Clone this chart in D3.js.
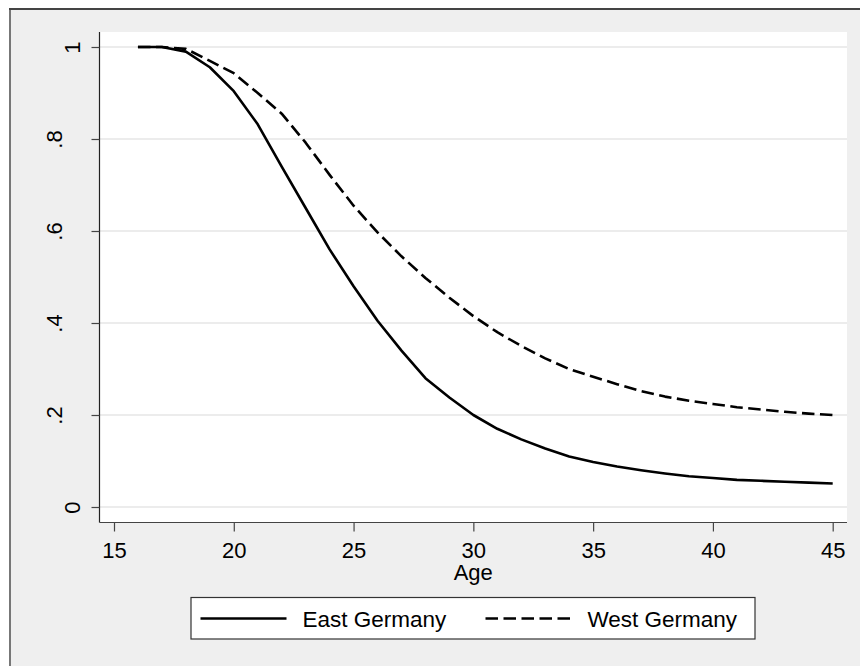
<!DOCTYPE html>
<html>
<head>
<meta charset="utf-8">
<script src="https://cdn.jsdelivr.net/npm/d3@7"></script>
<style>
  html, body { margin: 0; padding: 0; background: #ffffff; }
  svg { display: block; }
  text { font-family: "Liberation Sans", Arial, sans-serif; fill: #000; }
</style>
</head>
<body>
<svg id="chart" width="860" height="666"></svg>
<script>
// Share of people still childless by age
const ages = [16, 17, 18, 19, 20, 21, 22, 23, 24, 25, 26, 27, 28, 29, 30,
              31, 32, 33, 34, 35, 36, 37, 38, 39, 40, 41, 42, 43, 44, 45];
const eastGermany = [1.0, 1.0, 0.99, 0.956, 0.904, 0.832, 0.74, 0.65, 0.56, 0.48,
                     0.405, 0.34, 0.28, 0.238, 0.2, 0.17, 0.147, 0.127, 0.11, 0.098,
                     0.088, 0.08, 0.073, 0.067, 0.063, 0.059, 0.057, 0.055, 0.053, 0.051];
const westGermany = [1.0, 1.0, 0.996, 0.97, 0.943, 0.9, 0.855, 0.792, 0.722, 0.655,
                     0.597, 0.545, 0.498, 0.455, 0.415, 0.38, 0.35, 0.323, 0.3, 0.283,
                     0.267, 0.252, 0.24, 0.231, 0.224, 0.217, 0.212, 0.207, 0.203, 0.2];
const xTicks = [15, 20, 25, 30, 35, 40, 45];
const yTicks = [0, 0.2, 0.4, 0.6, 0.8, 1];
const yTickLabels = ["0", ".2", ".4", ".6", ".8", "1"];
const seriesNames = ["East Germany", "West Germany"];
const xTitle = "Age";

const svg = d3.select("#chart");

// outer graph region
svg.append("rect").attr("x", 10).attr("y", 9).attr("width", 860).attr("height", 670)
  .attr("fill", "#efefef");
svg.append("line").attr("x1", 10).attr("x2", 10).attr("y1", 9).attr("y2", 666)
  .attr("stroke", "#777").attr("stroke-width", 2);
svg.append("line").attr("x1", 9).attr("x2", 860).attr("y1", 9).attr("y2", 9)
  .attr("stroke", "#444").attr("stroke-width", 2);

const plot = { left: 99.5, right: 847, top: 32, bottom: 522.5 };

// plot region
svg.append("rect")
  .attr("x", plot.left).attr("y", plot.top)
  .attr("width", plot.right - plot.left).attr("height", plot.bottom - plot.top)
  .attr("fill", "#ffffff");

const x = d3.scaleLinear().domain([15, 45]).range([114, 832.7]);
const y = d3.scaleLinear().domain([0, 1]).range([507, 47]);

// gridlines
svg.append("g").selectAll("line").data(yTicks).join("line")
  .attr("x1", plot.left).attr("x2", plot.right)
  .attr("y1", d => y(d)).attr("y2", d => y(d))
  .attr("stroke", "#e6e6e6").attr("stroke-width", 1.5);

// y axis
const yAxis = d3.axisLeft(y).tickValues(yTicks)
  .tickFormat((d, i) => yTickLabels[i]).tickSize(8).tickPadding(0);
const gy = svg.append("g").attr("transform", `translate(${plot.left},0)`).call(yAxis);
gy.select(".domain").attr("d", `M0,${plot.top}V${plot.bottom}`)
  .attr("stroke", "#222").attr("stroke-width", 1.2);
gy.selectAll(".tick line").attr("stroke", "#444").attr("stroke-width", 1.2);
// vertical labels; the decimal ones sit further out from the axis
gy.selectAll(".tick text")
  .attr("x", null).attr("dy", null)
  .attr("transform", (d, i) => {
    const off = yTickLabels[i].length > 1 ? -38 : -19.5;
    return `translate(${off},0) rotate(-90)`;
  })
  .attr("text-anchor", "middle")
  .style("font-size", "22px");

// x axis
const xAxis = d3.axisBottom(x).tickValues(xTicks).tickSize(9).tickPadding(0);
const gx = svg.append("g").attr("transform", `translate(0,${plot.bottom})`).call(xAxis);
gx.select(".domain").attr("d", `M${plot.left},0H${plot.right}`)
  .attr("stroke", "#444").attr("stroke-width", 1.2);
gx.selectAll(".tick line").attr("stroke", "#444").attr("stroke-width", 1.2);
gx.selectAll(".tick text")
  .attr("y", 35).attr("dy", null)
  .style("font-size", "22px");

svg.selectAll(".tick text").attr("font-family", null).attr("fill", "#000");

svg.append("text")
  .attr("x", (plot.left + plot.right) / 2).attr("y", 580)
  .attr("text-anchor", "middle")
  .style("font-size", "22px")
  .text(xTitle);

// series lines
const line = d3.line().x(d => x(d[0])).y(d => y(d[1]));
const series = [
  { name: seriesNames[0], values: eastGermany, dash: null },
  { name: seriesNames[1], values: westGermany, dash: "12.5,5.5" }
];
series.forEach(s => {
  svg.append("path")
    .datum(ages.map((a, i) => [a, s.values[i]]))
    .attr("d", line)
    .attr("fill", "none")
    .attr("stroke", "#000")
    .attr("stroke-width", 2.6)
    .attr("stroke-linejoin", "round")
    .attr("stroke-dasharray", s.dash);
});

// legend
const legend = svg.append("g");
legend.append("rect")
  .attr("x", 191).attr("y", 597.5).attr("width", 564).attr("height", 41.5)
  .attr("fill", "#ffffff").attr("stroke", "#333").attr("stroke-width", 1.2);
const entries = [
  { x0: 200.5, x1: 286.5, tx: 302.5 },
  { x0: 485.5, x1: 571, tx: 587.5 }
];
series.forEach((s, i) => {
  const e = entries[i];
  legend.append("line")
    .attr("x1", e.x0).attr("x2", e.x1).attr("y1", 618.5).attr("y2", 618.5)
    .attr("stroke", "#000").attr("stroke-width", 2.6)
    .attr("stroke-dasharray", s.dash);
  legend.append("text")
    .attr("x", e.tx).attr("y", 627)
    .style("font-size", "22.5px")
    .text(s.name);
});
</script>
</body>
</html>
